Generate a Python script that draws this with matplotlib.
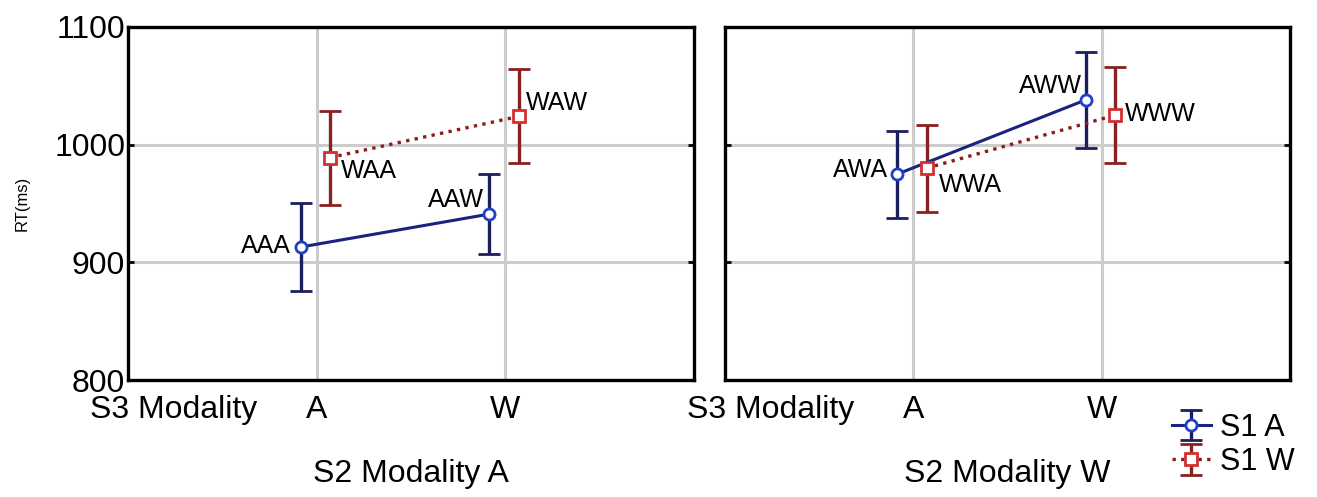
import matplotlib
matplotlib.use("Agg")
import matplotlib.pyplot as plt
import matplotlib.transforms as mtransforms

plt.rcParams['font.family'] = ['Liberation Sans', 'DejaVu Sans']

# S3 modality categories (x positions 0 = A, 1 = W)
s3_cats = ["A", "W"]
s1_names = ["S1 A", "S1 W"]

# panel 1: S2 modality A
p1_s1a_mean = [913, 941]
p1_s1a_err = [37, 34]
p1_s1a_lab = ["AAA", "AAW"]
p1_s1w_mean = [989, 1024]
p1_s1w_err = [40, 40]
p1_s1w_lab = ["WAA", "WAW"]

# panel 2: S2 modality W
p2_s1a_mean = [975, 1038]
p2_s1a_err = [37, 41]
p2_s1a_lab = ["AWA", "AWW"]
p2_s1w_mean = [980, 1025]
p2_s1w_err = [37, 41]
p2_s1w_lab = ["WWA", "WWW"]

blue_line = "#1a237e"
blue_mk = "#2040c8"
blue_bar = "#1c1f5e"
red_line = "#8b1c1c"
red_mk = "#d03030"
red_bar = "#8a2020"

fig = plt.figure(figsize=(13.17, 4.97), dpi=100)
ax1 = fig.add_axes([0.0972, 0.2354, 0.4298, 0.7103])
ax2 = fig.add_axes([0.5505, 0.2354, 0.4290, 0.7103])

def draw_panel(ax, a_mean, a_err, a_lab, w_mean, w_err, w_lab, a_offs, w_offs, title):
    xa = [i - 0.085 for i in range(len(s3_cats))]
    xw = [i + 0.07 for i in range(len(s3_cats))]
    ha_ = ax.errorbar(xa, a_mean, yerr=a_err, color=blue_line, ecolor=blue_bar,
                      lw=2.2, elinewidth=2.4, capsize=8, capthick=2.4,
                      marker="o", ms=8, mfc="white", mec=blue_mk, mew=2, zorder=4)
    hw_ = ax.errorbar(xw, w_mean, yerr=w_err, color=red_line, ecolor=red_bar,
                      lw=2.4, ls=(0, (1, 1.6)), elinewidth=2.4, capsize=8, capthick=2.4,
                      marker="s", ms=8, mfc="white", mec=red_mk, mew=2, zorder=4)
    for x, y, t, (dx, dy, h) in zip(xa, a_mean, a_lab, a_offs):
        ax.annotate(t, (x, y), xytext=(dx, dy), textcoords="offset points",
                    ha=h, va="center", fontsize=18)
    for x, y, t, (dx, dy, h) in zip(xw, w_mean, w_lab, w_offs):
        ax.annotate(t, (x, y), xytext=(dx, dy), textcoords="offset points",
                    ha=h, va="center", fontsize=18)
    ax.set_xlim(-1, 2)
    ax.set_ylim(800, 1100)
    ax.set_xticks(range(len(s3_cats)))
    ax.set_xticklabels(s3_cats, fontsize=23)
    ax.tick_params(axis="x", length=0, pad=11)
    ax.set_yticks([800, 900, 1000, 1100])
    ax.tick_params(axis="y", direction="in", length=4, width=2, left=True, right=True)
    ax.grid(True, color="#cccccc", lw=2.2)
    ax.set_axisbelow(True)
    for s in ax.spines.values():
        s.set_linewidth(2.4)
        s.set_color("black")
    trans = mtransforms.blended_transform_factory(ax.transData, ax.transAxes)
    ax.text(-0.76, -0.043, "S3 Modality", transform=trans, ha="center", va="top", fontsize=23)
    ax.set_xlabel(title, fontsize=23, labelpad=24)
    return ha_, hw_

h1, h2 = draw_panel(ax1, p1_s1a_mean, p1_s1a_err, p1_s1a_lab,
                    p1_s1w_mean, p1_s1w_err, p1_s1w_lab,
                    [(-7, 1, "right"), (-4, 10, "right")],
                    [(8, -10, "left"), (5, 10, "left")],
                    "S2 Modality A")
draw_panel(ax2, p2_s1a_mean, p2_s1a_err, p2_s1a_lab,
           p2_s1w_mean, p2_s1w_err, p2_s1w_lab,
           [(-7, 3, "right"), (-3, 10, "right")],
           [(9, -12, "left"), (7, 1, "left")],
           "S2 Modality W")

ax1.set_yticklabels(["800", "900", "1000", "1100"], fontsize=23)
ax1.tick_params(axis="y", pad=2)
ax2.set_yticklabels([])
ax1.set_ylabel("RT(ms)", fontsize=12, labelpad=18)

fig.legend([h1, h2], s1_names, loc="center left", bbox_to_anchor=(0.878, 0.105),
           frameon=False, fontsize=22, handlelength=1.3, handletextpad=0.3,
           labelspacing=0.15, borderpad=0)

fig.savefig("out.png", dpi=100)
